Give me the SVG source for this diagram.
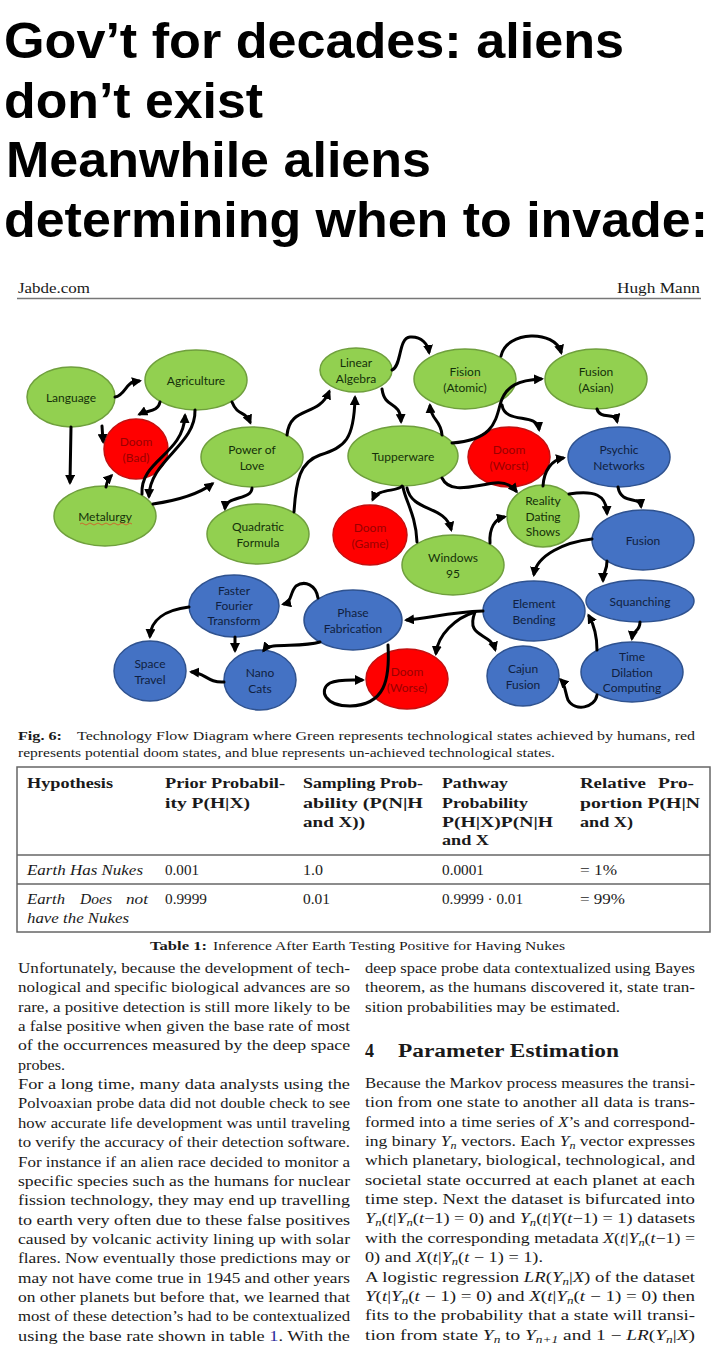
<svg xmlns="http://www.w3.org/2000/svg" width="720" height="1350" viewBox="0 0 720 1350">
<defs>
<marker id="ah" viewBox="0 0 10 10" refX="7" refY="5" markerWidth="10" markerHeight="10" markerUnits="userSpaceOnUse" orient="auto"><path d="M0,0 L10,5 L0,10 z" fill="#000"/></marker>
</defs>
<style>
.title{font-family:"Liberation Sans",Arial,sans-serif;font-weight:bold;font-size:50px;fill:#000}
.ser{font-family:"Liberation Serif","Times New Roman",serif;fill:#1a1a1a}
.body{font-size:14.5px}
.b{font-weight:bold}
.i{font-style:italic}
.sub{font-size:10px;font-style:italic}
.nd text{font-family:Lato,"Open Sans",sans-serif;font-size:12px;text-anchor:middle}
.g ellipse{fill:#92D050;stroke:#6f9f3d;stroke-width:1.5}
.g text{fill:#15300a}
.r ellipse{fill:#FF0000;stroke:#c41010;stroke-width:1.5}
.r text{fill:#9a0000}
.bl ellipse{fill:#4472C4;stroke:#2f528f;stroke-width:1.5}
.bl text{fill:#101f40}
#connectors path{fill:none;stroke:#000;stroke-width:3;stroke-linecap:round}
.a{marker-end:url(#ah)}
.rule{stroke:#777;stroke-width:1.3;fill:none}
</style>
<rect width="720" height="1350" fill="#fff"/>

<g id="title">
<text class="title" x="4" y="58" textLength="620" lengthAdjust="spacingAndGlyphs">Gov’t for decades: aliens</text>
<text class="title" x="4" y="118" textLength="259" lengthAdjust="spacingAndGlyphs">don’t exist</text>
<text class="title" x="6" y="177" textLength="425" lengthAdjust="spacingAndGlyphs">Meanwhile aliens</text>
<text class="title" x="4" y="237" textLength="704" lengthAdjust="spacingAndGlyphs">determining when to invade:</text>
</g>

<g id="pagehead">
<text class="ser" x="18" y="293" font-size="14" textLength="72" lengthAdjust="spacingAndGlyphs">Jabde.com</text>
<text class="ser" x="617" y="293" font-size="14" textLength="83" lengthAdjust="spacingAndGlyphs">Hugh Mann</text>
<line class="rule" x1="17" y1="298.5" x2="701" y2="298.5"/>
</g>

<g id="nodes">
<g id="n-language" class="nd g"><ellipse cx="71" cy="397" rx="44" ry="30"/><text x="71" y="401.5">Language</text></g>
<g id="n-agriculture" class="nd g"><ellipse cx="196" cy="380" rx="51" ry="30"/><text x="196" y="384.5">Agriculture</text></g>
<g id="n-doom-bad" class="nd r"><ellipse cx="136" cy="449" rx="32" ry="30"/><text><tspan x="136" y="445.5">Doom</tspan><tspan x="136" y="461.5">(Bad)</tspan></text></g>
<g id="n-metalurgy" class="nd g"><ellipse cx="105" cy="516" rx="51" ry="30"/><text x="105" y="520.5">Metalurgy</text><path d="M80,524 q2,-2 4,0 t4,0 t4,0 t4,0 t4,0 t4,0 t4,0 t4,0 t4,0 t4,0 t4,0 t4,0 t4,0" fill="none" stroke="#d0602a" stroke-width="0.9"/></g>
<g id="n-power-of-love" class="nd g"><ellipse cx="252" cy="457" rx="51" ry="30"/><text><tspan x="252" y="453.5">Power of</tspan><tspan x="252" y="469.5">Love</tspan></text></g>
<g id="n-quadratic" class="nd g"><ellipse cx="258" cy="534" rx="51" ry="30"/><text><tspan x="258" y="530.5">Quadratic</tspan><tspan x="258" y="546.5">Formula</tspan></text></g>
<g id="n-linear-algebra" class="nd g"><ellipse cx="356" cy="370" rx="36" ry="22"/><text><tspan x="356" y="366.5">Linear</tspan><tspan x="356" y="382.5">Algebra</tspan></text></g>
<g id="n-fision" class="nd g"><ellipse cx="465" cy="379" rx="51" ry="30"/><text><tspan x="465" y="375.5">Fision</tspan><tspan x="465" y="391.5">(Atomic)</tspan></text><line x1="451" y1="378" x2="480" y2="378" stroke="#c9a94a" stroke-width="0.9"/></g>
<g id="n-fusion-asian" class="nd g"><ellipse cx="596" cy="379" rx="51" ry="30"/><text><tspan x="596" y="375.5">Fusion</tspan><tspan x="596" y="391.5">(Asian)</tspan></text></g>
<g id="n-tupperware" class="nd g"><ellipse cx="403" cy="456" rx="55" ry="30"/><text x="403" y="460.5">Tupperware</text></g>
<g id="n-doom-worst" class="nd r"><ellipse cx="509" cy="457" rx="41" ry="30"/><text><tspan x="509" y="453.5">Doom</tspan><tspan x="509" y="469.5">(Worst)</tspan></text></g>
<g id="n-psychic" class="nd bl"><ellipse cx="619" cy="457" rx="51" ry="30"/><text><tspan x="619" y="453.5">Psychic</tspan><tspan x="619" y="469.5">Networks</tspan></text></g>
<g id="n-reality" class="nd g"><ellipse cx="543" cy="516" rx="36" ry="31"/><text><tspan x="543" y="505">Reality</tspan><tspan x="543" y="520.5">Dating</tspan><tspan x="543" y="536">Shows</tspan></text></g>
<g id="n-fusion" class="nd bl"><ellipse cx="643" cy="540" rx="51" ry="30"/><text x="643" y="544.5">Fusion</text></g>
<g id="n-doom-game" class="nd r"><ellipse cx="370" cy="535" rx="37" ry="30"/><text><tspan x="370" y="531.5">Doom</tspan><tspan x="370" y="547.5">(Game)</tspan></text></g>
<g id="n-windows95" class="nd g"><ellipse cx="453" cy="565" rx="51" ry="30"/><text><tspan x="453" y="561.5">Windows</tspan><tspan x="453" y="577.5">95</tspan></text></g>
<g id="n-fft" class="nd bl"><ellipse cx="234" cy="606" rx="45" ry="31"/><text><tspan x="234" y="595">Faster</tspan><tspan x="234" y="610">Fourier</tspan><tspan x="234" y="625">Transform</tspan></text></g>
<g id="n-space-travel" class="nd bl"><ellipse cx="150" cy="671" rx="36" ry="30"/><text><tspan x="150" y="667.5">Space</tspan><tspan x="150" y="683.5">Travel</tspan></text></g>
<g id="n-nano-cats" class="nd bl"><ellipse cx="260" cy="680" rx="36" ry="30"/><text><tspan x="260" y="676.5">Nano</tspan><tspan x="260" y="692.5">Cats</tspan></text></g>
<g id="n-phase" class="nd bl"><ellipse cx="353" cy="620" rx="49" ry="30"/><text><tspan x="353" y="616.5">Phase</tspan><tspan x="353" y="632.5">Fabrication</tspan></text></g>
<g id="n-doom-worse" class="nd r"><ellipse cx="407" cy="679" rx="41" ry="30"/><text><tspan x="407" y="675.5">Doom</tspan><tspan x="407" y="691.5">(Worse)</tspan></text></g>
<g id="n-element" class="nd bl"><ellipse cx="534" cy="611" rx="51" ry="30"/><text><tspan x="534" y="607.5">Element</tspan><tspan x="534" y="623.5">Bending</tspan></text></g>
<g id="n-squanching" class="nd bl"><ellipse cx="640" cy="601" rx="54" ry="21"/><text x="640" y="605.5">Squanching</text></g>
<g id="n-cajun" class="nd bl"><ellipse cx="523" cy="676" rx="36" ry="30"/><text><tspan x="523" y="672.5">Cajun</tspan><tspan x="523" y="688.5">Fusion</tspan></text></g>
<g id="n-time-dilation" class="nd bl"><ellipse cx="632" cy="672" rx="51" ry="30"/><text><tspan x="632" y="661">Time</tspan><tspan x="632" y="676.5">Dilation</tspan><tspan x="632" y="692">Computing</tspan></text></g>
</g>

<g id="connectors">
<path class="a" d="M115,397 C124,396 126,384 133,382 L139,381"/>
<path class="a" d="M160,402 C158,412 148,410 140,414"/>
<path class="a" d="M102,426 L103,441"/>
<path class="a" d="M71,427 L70,482"/>
<path class="a" d="M106,487 C107,481 109,478 111,476"/>
<path class="a" d="M142,494 C140,460 183,455 185,416"/>
<path class="a" d="M195,410 C196,445 150,460 149,496"/>
<path class="a" d="M153,504 C180,500 200,493 212,484"/>
<path class="a" d="M232,402 C238,417 245,410 250,422"/>
<path class="a" d="M252,488 C252,500 226,496 225,508"/>
<path class="a" d="M287,435 C290,405 318,418 329,392"/>
<path class="a" d="M294,512 C296,480 300,462 320,455 C345,447 354,440 355,398"/>
<path class="a" d="M392,370 C402,366 398,338 410,337 C422,336 428,345 429,352"/>
<path class="a" d="M382,389 C385,410 400,400 401,421"/>
<path class="a" d="M442,435 C441,420 431,420 430,406"/>
<path class="a" d="M452,443 C490,440 495,425 500,405 C505,385 520,380 541,379"/>
<path class="a" d="M501,356 C507,330 555,330 561,352"/>
<path class="a" d="M502,405 C505,425 537,412 539,429"/>
<path class="a" d="M597,409 C600,420 615,412 617,421"/>
<path class="a" d="M442,478 C450,495 475,485 495,483 C505,482 512,486 516,491"/>
<path class="a" d="M543,486 C544,470 552,460 563,458"/>
<path class="a" d="M569,494 C595,490 606,495 607,513"/>
<path class="a" d="M618,487 C621,505 640,496 641,506"/>
<path class="a" d="M402,486 C398,492 378,488 373,499"/>
<path class="a" d="M407,488 C412,512 445,505 451,529"/>
<path d="M417,542 C416,515 405,500 403,487"/>
<path class="a" d="M490,543 C489,528 495,519 504,517"/>
<path class="a" d="M592,539 C565,542 537,555 534,574"/>
<path class="a" d="M607,561 C607,572 603,572 603,580"/>
<path class="a" d="M640,622 C640,632 633,630 632,638"/>
<path class="a" d="M597,650 C597,635 594,625 589,616"/>
<path class="a" d="M597,695 C595,708 575,712 568,700 C565,692 565,684 561,680"/>
<path class="a" d="M483,611 C450,612 430,618 407,620"/>
<path class="a" d="M475,612 C455,618 438,635 436,653"/>
<path class="a" d="M475,612 C465,638 490,632 495,649"/>
<path class="a" d="M388,645 C390,680 385,705 350,706 C325,706 318,690 330,683 C338,679 350,680 362,680"/>
<path class="a" d="M318,598 C316,585 305,580 296,586 C290,592 292,602 284,604"/>
<path class="a" d="M320,642 C300,648 270,642 264,650"/>
<path class="a" d="M235,637 L235,650"/>
<path class="a" d="M189,607 C165,610 151,620 150,636"/>
<path class="a" d="M224,682 C208,683 205,673 192,672"/>
</g>

<g id="caption" class="ser" font-size="13.5">
<text class="b" x="18" y="740" textLength="44" lengthAdjust="spacingAndGlyphs">Fig. 6:</text>
<text x="77" y="740" textLength="618" lengthAdjust="spacingAndGlyphs">Technology Flow Diagram where Green represents technological states achieved by humans, red</text>
<text x="18" y="757" textLength="537" lengthAdjust="spacingAndGlyphs">represents potential doom states, and blue represents un-achieved technological states.</text>
</g>

<g id="table" class="ser" font-size="14">
<rect x="17" y="767" width="693" height="165" fill="none" stroke="#666" stroke-width="1.5"/>
<line x1="17" y1="855" x2="710" y2="855" stroke="#666" stroke-width="1.3"/>
<line x1="17" y1="884" x2="710" y2="884" stroke="#666" stroke-width="1.3"/>
<g class="b">
<text x="27" y="788" textLength="86" lengthAdjust="spacingAndGlyphs">Hypothesis</text>
<text x="165" y="788" textLength="120" lengthAdjust="spacingAndGlyphs">Prior Probabil-</text>
<text x="165" y="808" textLength="85" lengthAdjust="spacingAndGlyphs">ity P(H|X)</text>
<text x="303" y="788" textLength="120" lengthAdjust="spacingAndGlyphs">Sampling Prob-</text>
<text x="303" y="808" textLength="120" lengthAdjust="spacingAndGlyphs">ability (P(N|H</text>
<text x="303" y="827" textLength="62" lengthAdjust="spacingAndGlyphs">and X))</text>
<text x="442" y="788" textLength="66" lengthAdjust="spacingAndGlyphs">Pathway</text>
<text x="442" y="808" textLength="86" lengthAdjust="spacingAndGlyphs">Probability</text>
<text x="442" y="827" textLength="111" lengthAdjust="spacingAndGlyphs">P(H|X)P(N|H</text>
<text x="442" y="845" textLength="47" lengthAdjust="spacingAndGlyphs">and X</text>
<text x="580" y="788" textLength="66" lengthAdjust="spacingAndGlyphs">Relative</text>
<text x="658" y="788" textLength="36" lengthAdjust="spacingAndGlyphs">Pro-</text>
<text x="580" y="808" textLength="120" lengthAdjust="spacingAndGlyphs">portion  P(H|N</text>
<text x="580" y="827" textLength="53" lengthAdjust="spacingAndGlyphs">and X)</text>
</g>
<text class="i" x="27" y="875" textLength="116" lengthAdjust="spacingAndGlyphs">Earth Has Nukes</text>
<text x="165" y="875" textLength="34" lengthAdjust="spacingAndGlyphs">0.001</text>
<text x="303" y="875" textLength="20" lengthAdjust="spacingAndGlyphs">1.0</text>
<text x="442" y="875" textLength="42" lengthAdjust="spacingAndGlyphs">0.0001</text>
<text x="580" y="875" textLength="37" lengthAdjust="spacingAndGlyphs">= 1%</text>
<text class="i" x="27" y="904" textLength="38" lengthAdjust="spacingAndGlyphs">Earth</text>
<text class="i" x="80" y="904" textLength="32" lengthAdjust="spacingAndGlyphs">Does</text>
<text class="i" x="126" y="904" textLength="22" lengthAdjust="spacingAndGlyphs">not</text>
<text class="i" x="27" y="923" textLength="102" lengthAdjust="spacingAndGlyphs">have the Nukes</text>
<text x="165" y="904" textLength="42" lengthAdjust="spacingAndGlyphs">0.9999</text>
<text x="303" y="904" textLength="27" lengthAdjust="spacingAndGlyphs">0.01</text>
<text x="442" y="904" textLength="81" lengthAdjust="spacingAndGlyphs">0.9999 · 0.01</text>
<text x="580" y="904" textLength="45" lengthAdjust="spacingAndGlyphs">= 99%</text>
</g>

<g id="table-caption" class="ser" font-size="13">
<text class="b" x="150" y="950" textLength="57" lengthAdjust="spacingAndGlyphs">Table 1:</text>
<text x="213" y="950" textLength="352" lengthAdjust="spacingAndGlyphs">Inference After Earth Testing Positive for Having Nukes</text>
</g>

<g id="left-column" class="ser body">
<text x="18" y="973" textLength="332" lengthAdjust="spacingAndGlyphs">Unfortunately, because the development of tech-</text>
<text x="18" y="992.35" textLength="332" lengthAdjust="spacingAndGlyphs">nological and specific biological advances are so</text>
<text x="18" y="1011.7" textLength="332" lengthAdjust="spacingAndGlyphs">rare, a positive detection is still more likely to be</text>
<text x="18" y="1031.05" textLength="332" lengthAdjust="spacingAndGlyphs">a false positive when given the base rate of most</text>
<text x="18" y="1050.4" textLength="332" lengthAdjust="spacingAndGlyphs">of the occurrences measured by the deep space</text>
<text x="18" y="1069.75" textLength="47" lengthAdjust="spacingAndGlyphs">probes.</text>
<text x="18" y="1089.1" textLength="332" lengthAdjust="spacingAndGlyphs">For a long time, many data analysts using the</text>
<text x="18" y="1108.45" textLength="332" lengthAdjust="spacingAndGlyphs">Polvoaxian probe data did not double check to see</text>
<text x="18" y="1127.8" textLength="332" lengthAdjust="spacingAndGlyphs">how accurate life development was until traveling</text>
<text x="18" y="1147.15" textLength="332" lengthAdjust="spacingAndGlyphs">to verify the accuracy of their detection software.</text>
<text x="18" y="1166.5" textLength="332" lengthAdjust="spacingAndGlyphs">For instance if an alien race decided to monitor a</text>
<text x="18" y="1185.85" textLength="332" lengthAdjust="spacingAndGlyphs">specific species such as the humans for nuclear</text>
<text x="18" y="1205.2" textLength="332" lengthAdjust="spacingAndGlyphs">fission technology, they may end up travelling</text>
<text x="18" y="1224.55" textLength="332" lengthAdjust="spacingAndGlyphs">to earth very often due to these false positives</text>
<text x="18" y="1243.9" textLength="332" lengthAdjust="spacingAndGlyphs">caused by volcanic activity lining up with solar</text>
<text x="18" y="1263.25" textLength="332" lengthAdjust="spacingAndGlyphs">flares.  Now eventually those predictions may or</text>
<text x="18" y="1282.6" textLength="332" lengthAdjust="spacingAndGlyphs">may not have come true in 1945 and other years</text>
<text x="18" y="1301.95" textLength="332" lengthAdjust="spacingAndGlyphs">on other planets but before that, we learned that</text>
<text x="18" y="1321.3" textLength="332" lengthAdjust="spacingAndGlyphs">most of these detection’s had to be contextualized</text>
<text x="18" y="1340.65" textLength="332" lengthAdjust="spacingAndGlyphs">using the base rate shown in table <tspan fill="#2a2a9a">1</tspan>.  With the</text>
</g>

<g id="right-column" class="ser body">
<text x="365" y="973" textLength="330" lengthAdjust="spacingAndGlyphs">deep space probe data contextualized using Bayes</text>
<text x="365" y="992.35" textLength="330" lengthAdjust="spacingAndGlyphs">theorem, as the humans discovered it, state tran-</text>
<text x="365" y="1011.7" textLength="255" lengthAdjust="spacingAndGlyphs">sition probabilities may be estimated.</text>
<text class="b" x="365" y="1057" font-size="18">4</text>
<text class="b" x="398" y="1057" font-size="18" textLength="221" lengthAdjust="spacingAndGlyphs">Parameter Estimation</text>
<text x="365" y="1088" textLength="330" lengthAdjust="spacingAndGlyphs">Because the Markov process measures the transi-</text>
<text x="365" y="1107.35" textLength="330" lengthAdjust="spacingAndGlyphs">tion from one state to another all data is trans-</text>
<text x="365" y="1126.7" textLength="330" lengthAdjust="spacingAndGlyphs">formed into a time series of <tspan class="i">X</tspan>’s and correspond-</text>
<text x="365" y="1146.05" textLength="330" lengthAdjust="spacingAndGlyphs">ing binary <tspan class="i">Y</tspan><tspan class="sub" dy="3">n</tspan><tspan dy="-3"> vectors.  Each </tspan><tspan class="i">Y</tspan><tspan class="sub" dy="3">n</tspan><tspan dy="-3"> vector expresses</tspan></text>
<text x="365" y="1165.4" textLength="330" lengthAdjust="spacingAndGlyphs">which planetary, biological, technological, and</text>
<text x="365" y="1184.75" textLength="330" lengthAdjust="spacingAndGlyphs">societal state occurred at each planet at each</text>
<text x="365" y="1204.1" textLength="330" lengthAdjust="spacingAndGlyphs">time step.  Next the dataset is bifurcated into</text>
<text x="365" y="1223.45" textLength="330" lengthAdjust="spacingAndGlyphs"><tspan class="i">Y</tspan><tspan class="sub" dy="3">n</tspan><tspan dy="-3">(</tspan><tspan class="i">t</tspan>|<tspan class="i">Y</tspan><tspan class="sub" dy="3">n</tspan><tspan dy="-3">(</tspan><tspan class="i">t</tspan>−1) = 0) and <tspan class="i">Y</tspan><tspan class="sub" dy="3">n</tspan><tspan dy="-3">(</tspan><tspan class="i">t</tspan>|<tspan class="i">Y</tspan>(<tspan class="i">t</tspan>−1) = 1) datasets</text>
<text x="365" y="1242.8" textLength="330" lengthAdjust="spacingAndGlyphs">with the corresponding metadata <tspan class="i">X</tspan>(<tspan class="i">t</tspan>|<tspan class="i">Y</tspan><tspan class="sub" dy="3">n</tspan><tspan dy="-3">(</tspan><tspan class="i">t</tspan>−1) =</text>
<text x="365" y="1262.15" textLength="178" lengthAdjust="spacingAndGlyphs">0) and <tspan class="i">X</tspan>(<tspan class="i">t</tspan>|<tspan class="i">Y</tspan><tspan class="sub" dy="3">n</tspan><tspan dy="-3">(</tspan><tspan class="i">t</tspan> − 1) = 1).</text>
<text x="365" y="1281.5" textLength="330" lengthAdjust="spacingAndGlyphs">A logistic regression <tspan class="i">LR</tspan>(<tspan class="i">Y</tspan><tspan class="sub" dy="3">n</tspan><tspan dy="-3">|</tspan><tspan class="i">X</tspan>) of the dataset</text>
<text x="365" y="1300.85" textLength="330" lengthAdjust="spacingAndGlyphs"><tspan class="i">Y</tspan>(<tspan class="i">t</tspan>|<tspan class="i">Y</tspan><tspan class="sub" dy="3">n</tspan><tspan dy="-3">(</tspan><tspan class="i">t</tspan> − 1) = 0) and <tspan class="i">X</tspan>(<tspan class="i">t</tspan>|<tspan class="i">Y</tspan><tspan class="sub" dy="3">n</tspan><tspan dy="-3">(</tspan><tspan class="i">t</tspan> − 1) = 0) then</text>
<text x="365" y="1320.2" textLength="330" lengthAdjust="spacingAndGlyphs">fits to the probability that a state will transi-</text>
<text x="365" y="1339.55" textLength="330" lengthAdjust="spacingAndGlyphs">tion from state <tspan class="i">Y</tspan><tspan class="sub" dy="3">n</tspan><tspan dy="-3"> to </tspan><tspan class="i">Y</tspan><tspan class="sub" dy="3">n+1</tspan><tspan dy="-3"> and 1 − </tspan><tspan class="i">LR</tspan>(<tspan class="i">Y</tspan><tspan class="sub" dy="3">n</tspan><tspan dy="-3">|</tspan><tspan class="i">X</tspan>)</text>
</g>
</svg>
